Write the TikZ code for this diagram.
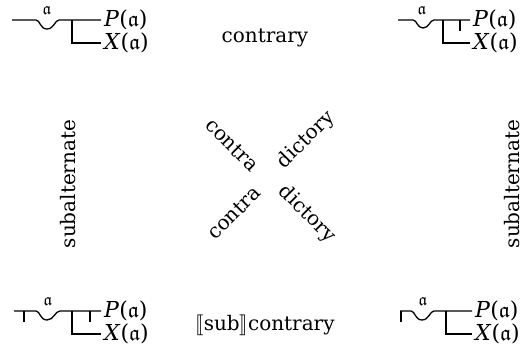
\documentclass[tikz,border=0pt]{standalone}
\usepackage{amssymb}
\usepackage{stmaryrd}
\usepackage{fontspec}
\setmainfont{DejaVu Serif}
\usepackage{tikz}
\usetikzlibrary{positioning}
\tikzset{
  stroke/.style={line width=1.3pt},
  lbl/.style={font=\fontsize{20}{24}\selectfont, inner sep=0pt},
  fml/.style={font=\fontsize{22}{26}\selectfont, inner xsep=3pt, inner ysep=0pt, anchor=west},
  bound/.style={font=\fontsize{17}{19}\selectfont, inner sep=0pt},
}
\newcommand{\fa}{$\mathfrak{a}$}

\begin{document}
\begin{tikzpicture}[x=1pt, y=-1pt]
    \useasboundingbox (0,0) rectangle (531,358);
    % top left
    \node[fml] (tlP) at (101,20) {\textit{P}(\fa)};
    \node[fml] (tlX) at (101,43) {\textit{X}(\fa)};
    \node[bound] (tla) at (47,10) {\fa};
    \coordinate (tlS) at (12,20);
    \coordinate (tlJ) at (72,20);
    \draw[stroke] (tlS) -- (36,20) .. controls (40,20) and (40,29) .. (47,29)
                  .. controls (54,29) and (55,20) .. (59,20) -- (tlP.west);
    \draw[stroke] (tlJ) |- (tlX.west);
    % top right
    \node[fml] (trP) at (470,20) {\textit{P}(\fa)};
    \node[fml] (trX) at (470,43) {\textit{X}(\fa)};
    \node[bound] (tra) at (422,10) {\fa};
    \coordinate (trS) at (398,20);
    \coordinate (trJ) at (443,20);
    \draw[stroke] (trS) -- (413,20) .. controls (417,20) and (417,28) .. (423,28)
                  .. controls (429,28) and (430,20) .. (434,20) -- (trP.west);
    \draw[stroke] (trJ) |- (trX.west);
    \draw[stroke] (460,20) -- ++(0,11);
    % bottom left
    \node[fml] (blP) at (101,311) {\textit{P}(\fa)};
    \node[fml] (blX) at (101,334) {\textit{X}(\fa)};
    \node[bound] (bla) at (48,301) {\fa};
    \coordinate (blS) at (14,311);
    \coordinate (blJ) at (72,311);
    \draw[stroke] (blS) -- (36,311) .. controls (40,311) and (40,320) .. (47,320)
                  .. controls (54,320) and (55,311) .. (60,311) -- (blP.west);
    \draw[stroke] (blJ) |- (blX.west);
    \draw[stroke] (24,311) -- ++(0,11);
    \draw[stroke] (90,311) -- ++(0,11);
    % bottom right
    \node[fml] (brP) at (472,311) {\textit{P}(\fa)};
    \node[fml] (brX) at (472,334) {\textit{X}(\fa)};
    \node[bound] (bra) at (423,301) {\fa};
    \coordinate (brS) at (400,311);
    \coordinate (brJ) at (446,311);
    \draw[stroke] (brS) -- (411,311) .. controls (415,311) and (415,320) .. (422,320)
                  .. controls (429,320) and (430,311) .. (434,311) -- (brP.west);
    \draw[stroke] (brJ) |- (brX.west);
    \draw[stroke] (401,311) -- ++(0,11);
    % relations
    \node[lbl] (ctr) at (265,38) {contrary};
    \node[lbl] (sctr) at (265,325) {$\llbracket$sub$\rrbracket$contrary};
    \node[lbl, rotate=90] (saL) at (68,184) {subalternate};
    \node[lbl, rotate=90] (saR) at (512,184) {subalternate};
    \node[lbl, rotate=-45] (cdA) at (232,145) {contra};
    \node[lbl, rotate=45] (cdB) at (306,140) {dictory};
    \node[lbl, rotate=45] (cdC) at (234,213) {contra};
    \node[lbl, rotate=-45] (cdD) at (307,214) {dictory};
\end{tikzpicture}
\end{document}
